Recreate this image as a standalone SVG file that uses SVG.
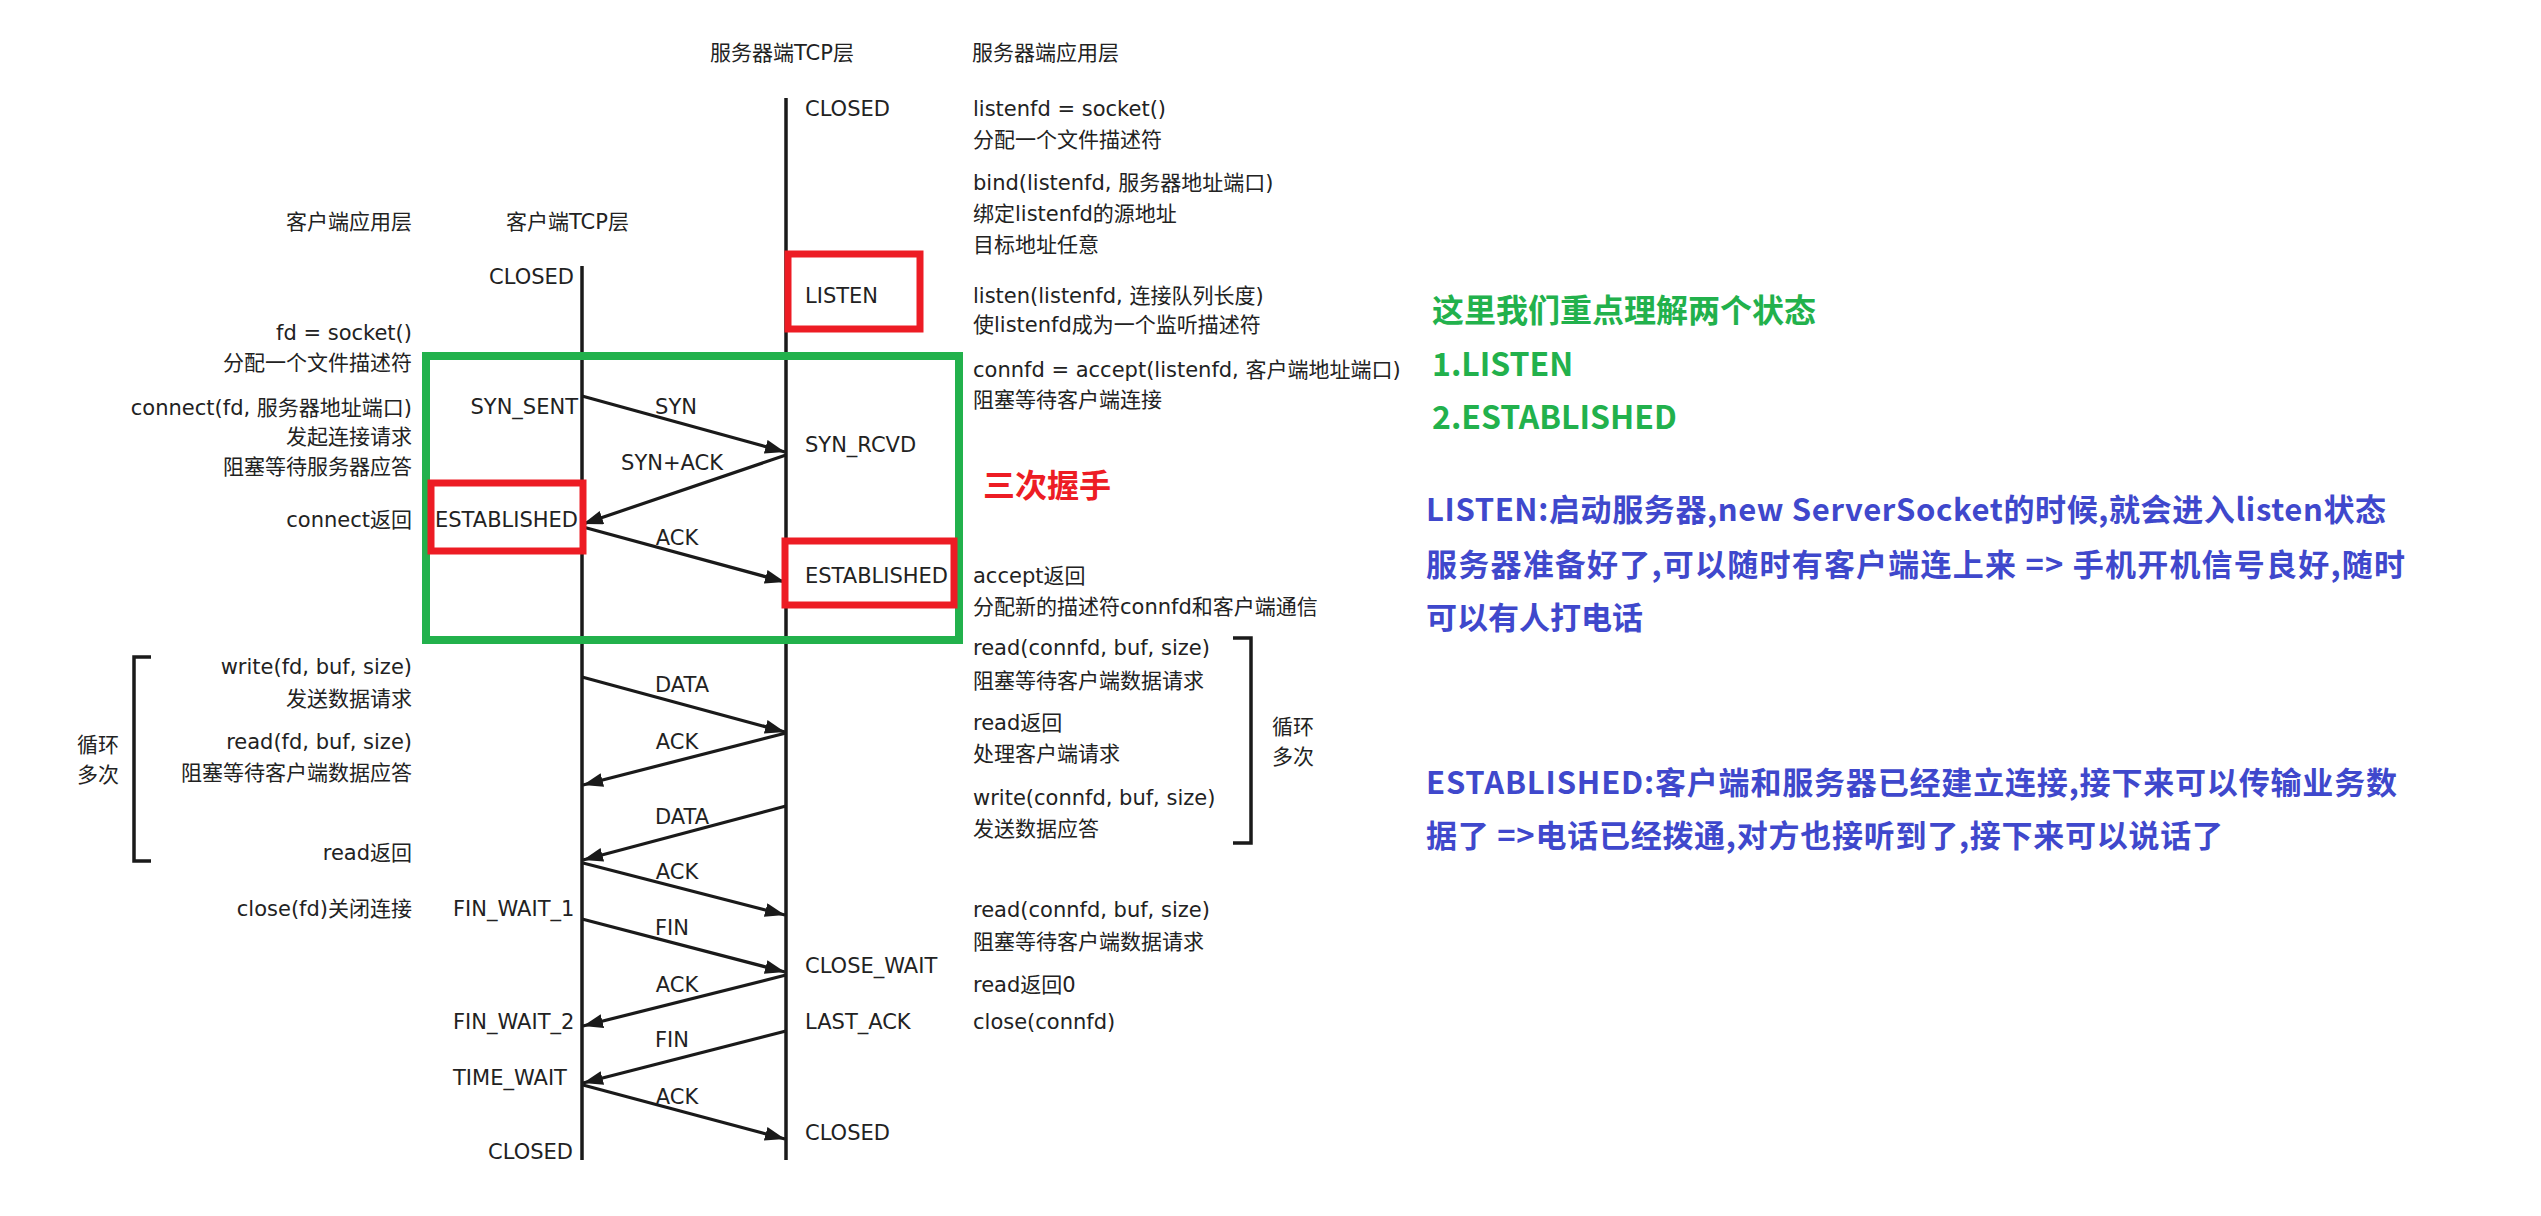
<svg xmlns="http://www.w3.org/2000/svg" width="2541" height="1216" viewBox="0 0 2541 1216">
<style>
.t{font-family:"DejaVu Sans","Noto Sans CJK SC",sans-serif;font-size:21px;fill:#222;dominant-baseline:central}
.e{text-anchor:end}
.m{text-anchor:middle}
.ln{stroke:#1a1a1a;stroke-width:3.5;fill:none}
.ar{stroke:#1a1a1a;stroke-width:3.2;fill:none;marker-end:url(#ah)}
.br{stroke:#1a1a1a;stroke-width:3.5;fill:none}
.g{font-family:"Noto Sans CJK SC",sans-serif;font-weight:bold;font-size:32px;fill:#22b14c;dominant-baseline:central}
.b{font-family:"Noto Sans CJK SC",sans-serif;font-weight:bold;font-size:31px;fill:#3f48cc;dominant-baseline:central}
.r{font-family:"Noto Sans CJK SC",sans-serif;font-weight:bold;font-size:32px;fill:#ed1c24;dominant-baseline:central}
.rbox{fill:none;stroke:#ed1c24;stroke-width:7}
.gbox{fill:none;stroke:#22b14c;stroke-width:8}
</style>
<defs>
<marker id="ah" markerUnits="userSpaceOnUse" markerWidth="22" markerHeight="16" refX="20" refY="7" orient="auto">
<path d="M0,0 L20,7 L0,14 z" fill="#1a1a1a"/>
</marker>
</defs>
<rect width="2541" height="1216" fill="#fff"/>

<g id="connectors">
<line class="ln" x1="582" y1="266" x2="582" y2="1160"/>
<line class="ln" x1="786" y1="98" x2="786" y2="1160"/>
<line class="ar" x1="582" y1="396" x2="785" y2="452"/>
<line class="ar" x1="786" y1="455" x2="583" y2="524"/>
<line class="ar" x1="583" y1="527" x2="785" y2="582"/>
<line class="ar" x1="582" y1="677" x2="785" y2="732"/>
<line class="ar" x1="786" y1="733" x2="583" y2="785"/>
<line class="ar" x1="786" y1="806" x2="583" y2="860"/>
<line class="ar" x1="583" y1="863" x2="785" y2="915"/>
<line class="ar" x1="582" y1="919" x2="785" y2="972"/>
<line class="ar" x1="786" y1="975" x2="583" y2="1026"/>
<line class="ar" x1="786" y1="1031" x2="583" y2="1083"/>
<line class="ar" x1="583" y1="1085" x2="785" y2="1139"/>
<polyline class="br" points="151,657 134,657 134,861 151,861"/>
<polyline class="br" points="1233,638 1251,638 1251,843 1233,843"/>
</g>

<g id="arrow-labels">
<text class="t m" x="676" y="407">SYN</text>
<text class="t m" x="672" y="463">SYN+ACK</text>
<text class="t m" x="677" y="538">ACK</text>
<text class="t m" x="682" y="685">DATA</text>
<text class="t m" x="677" y="742">ACK</text>
<text class="t m" x="682" y="817">DATA</text>
<text class="t m" x="677" y="872">ACK</text>
<text class="t m" x="672" y="928">FIN</text>
<text class="t m" x="677" y="985">ACK</text>
<text class="t m" x="672" y="1040">FIN</text>
<text class="t m" x="677" y="1097">ACK</text>
</g>

<g id="headers">
<text class="t" x="710" y="53">服务器端TCP层</text>
<text class="t" x="972" y="53">服务器端应用层</text>
<text class="t e" x="412" y="222">客户端应用层</text>
<text class="t" x="506" y="222">客户端TCP层</text>
</g>

<g id="client-app">
<text class="t e" x="412" y="333">fd = socket()</text>
<text class="t e" x="412" y="363">分配一个文件描述符</text>
<text class="t e" x="412" y="408">connect(fd, 服务器地址端口)</text>
<text class="t e" x="412" y="437">发起连接请求</text>
<text class="t e" x="412" y="467">阻塞等待服务器应答</text>
<text class="t e" x="412" y="520">connect返回</text>
<text class="t e" x="412" y="667">write(fd, buf, size)</text>
<text class="t e" x="412" y="699">发送数据请求</text>
<text class="t e" x="412" y="742">read(fd, buf, size)</text>
<text class="t e" x="412" y="773">阻塞等待客户端数据应答</text>
<text class="t e" x="412" y="853">read返回</text>
<text class="t e" x="412" y="909">close(fd)关闭连接</text>
<text class="t" x="77" y="745">循环</text>
<text class="t" x="77" y="775">多次</text>
</g>

<g id="client-tcp">
<text class="t e" x="574" y="277">CLOSED</text>
<text class="t e" x="578" y="407">SYN_SENT</text>
<text class="t e" x="578" y="520">ESTABLISHED</text>
<text class="t" x="453" y="909">FIN_WAIT_1</text>
<text class="t" x="453" y="1022">FIN_WAIT_2</text>
<text class="t" x="453" y="1078">TIME_WAIT</text>
<text class="t e" x="573" y="1152">CLOSED</text>
</g>

<g id="server-tcp">
<text class="t" x="805" y="109">CLOSED</text>
<text class="t" x="805" y="296">LISTEN</text>
<text class="t" x="805" y="445">SYN_RCVD</text>
<text class="t" x="805" y="576">ESTABLISHED</text>
<text class="t" x="805" y="966">CLOSE_WAIT</text>
<text class="t" x="805" y="1022">LAST_ACK</text>
<text class="t" x="805" y="1133">CLOSED</text>
</g>

<g id="server-app">
<text class="t" x="973" y="109">listenfd = socket()</text>
<text class="t" x="973" y="140">分配一个文件描述符</text>
<text class="t" x="973" y="183">bind(listenfd, 服务器地址端口)</text>
<text class="t" x="973" y="214">绑定listenfd的源地址</text>
<text class="t" x="973" y="245">目标地址任意</text>
<text class="t" x="973" y="296">listen(listenfd, 连接队列长度)</text>
<text class="t" x="973" y="325">使listenfd成为一个监听描述符</text>
<text class="t" x="973" y="370">connfd = accept(listenfd, 客户端地址端口)</text>
<text class="t" x="973" y="400">阻塞等待客户端连接</text>
<text class="t" x="973" y="576">accept返回</text>
<text class="t" x="973" y="607">分配新的描述符connfd和客户端通信</text>
<text class="t" x="973" y="648">read(connfd, buf, size)</text>
<text class="t" x="973" y="681">阻塞等待客户端数据请求</text>
<text class="t" x="973" y="723">read返回</text>
<text class="t" x="973" y="754">处理客户端请求</text>
<text class="t" x="973" y="798">write(connfd, buf, size)</text>
<text class="t" x="973" y="829">发送数据应答</text>
<text class="t" x="973" y="910">read(connfd, buf, size)</text>
<text class="t" x="973" y="942">阻塞等待客户端数据请求</text>
<text class="t" x="973" y="985">read返回0</text>
<text class="t" x="973" y="1022">close(connfd)</text>
<text class="t" x="1272" y="727">循环</text>
<text class="t" x="1272" y="757">多次</text>
</g>

<g id="handshake-box">
<rect class="gbox" x="426" y="356" width="533" height="284"/>
<text class="r" x="983" y="483">三次握手</text>
</g>

<g id="highlight-boxes">
<rect class="rbox" x="788" y="254" width="132" height="75"/>
<rect class="rbox" x="431" y="483" width="152" height="68"/>
<rect class="rbox" x="785" y="541" width="169" height="64"/>
</g>

<g id="notes">
<text class="g" x="1432" y="308">这里我们重点理解两个状态</text>
<text class="g" x="1432" y="362">1.LISTEN</text>
<text class="g" x="1432" y="415">2.ESTABLISHED</text>
<text class="b" x="1426" y="507" textLength="960">LISTEN:启动服务器,new ServerSocket的时候,就会进入listen状态</text>
<text class="b" x="1426" y="562" textLength="979">服务器准备好了,可以随时有客户端连上来 =&gt; 手机开机信号良好,随时</text>
<text class="b" x="1426" y="615">可以有人打电话</text>
<text class="b" x="1426" y="780" textLength="971">ESTABLISHED:客户端和服务器已经建立连接,接下来可以传输业务数</text>
<text class="b" x="1426" y="833" textLength="797">据了 =&gt;电话已经拨通,对方也接听到了,接下来可以说话了</text>
</g>
</svg>
